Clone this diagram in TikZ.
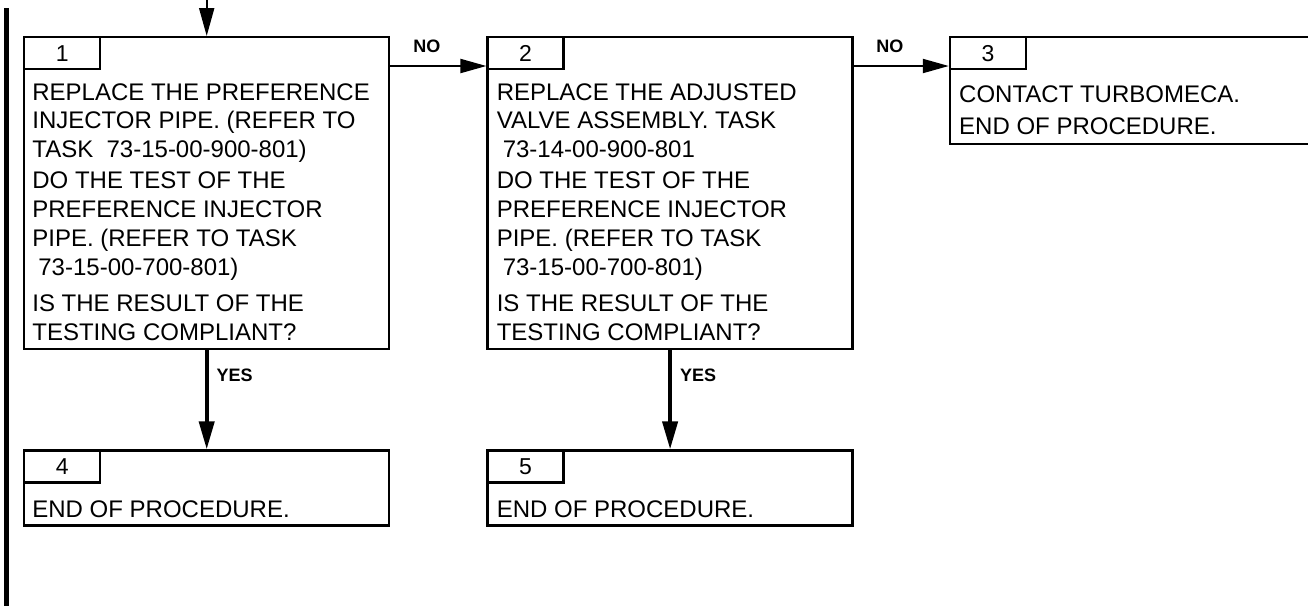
\documentclass[tikz,border=0pt]{standalone}
\usepackage{fontspec}
\setmainfont{Liberation Sans}
\usepackage{tikz}
\usetikzlibrary{arrows.meta, positioning, calc}

\begin{document}
\begin{tikzpicture}[
  font=\fontsize{12}{14.4}\selectfont,
  stepbox/.style={rectangle, draw=black, line width=1.2pt, inner sep=0pt,
                  minimum width=182.5pt},
  numtab/.style={rectangle, draw=black, line width=1.2pt, inner sep=0pt,
                 minimum width=38pt, minimum height=16pt, anchor=north west,
                 font=\fontsize{11.5}{12}\selectfont},
  steptext/.style={inner sep=0pt, align=left},
  arr/.style={-{Triangle[length=13pt, width=7pt]}, line width=1pt},
  downarr/.style={-{Triangle[length=14pt, width=7.5pt]}, line width=2pt},
  lbl/.style={font=\bfseries\fontsize{9}{10}\selectfont, inner sep=0pt},
  node distance=48pt and 48pt
]
  \useasboundingbox (0,0) rectangle (654pt,-303pt);
  \clip (0,0) rectangle (654pt,-303pt);

  \node[stepbox, minimum height=156pt, anchor=north west] (box1) at (11.5pt,-18pt) {};
  \node[stepbox, minimum height=156pt, right=48pt of box1] (box2) {};
  \node[stepbox, minimum width=190pt, minimum height=53.5pt,
        right=47.5pt of box2.north east, anchor=north west] (box3) {};
  \node[stepbox, minimum height=37.5pt, below=49.5pt of box1] (box4) {};
  \node[stepbox, minimum height=37.5pt, below=49.5pt of box2] (box5) {};

  \foreach \n in {1,...,5}
    \node[numtab] (tab\n) at (box\n.north west) {\n};

  \node[steptext, below right=23.5pt and 4.5pt of box1.north west] (txt1)
    {REPLACE THE PREFERENCE\\ INJECTOR PIPE. (REFER TO\\ TASK\ \ 73-15-00-900-801)\\[1.2pt]
     DO THE TEST OF THE\\ PREFERENCE INJECTOR\\ PIPE. (REFER TO TASK\\ \hspace*{3pt}73-15-00-700-801)\\[3.6pt]
     IS THE RESULT OF THE\\ TESTING COMPLIANT?};
  \node[steptext, below right=23.5pt and 5pt of box2.north west] (txt2)
    {REPLACE THE ADJUSTED\\ VALVE ASSEMBLY. TASK\\ \hspace*{3pt}73-14-00-900-801\\[1.2pt]
     DO THE TEST OF THE\\ PREFERENCE INJECTOR\\ PIPE. (REFER TO TASK\\ \hspace*{3pt}73-15-00-700-801)\\[3.6pt]
     IS THE RESULT OF THE\\ TESTING COMPLIANT?};
  \node[steptext, below right=24.5pt and 5pt of box3.north west] (txt3)
    {CONTACT TURBOMECA.\\[2pt] END OF PROCEDURE.};
  \node[steptext, below right=25.5pt and 4.5pt of box4.north west] (txt4) {END OF PROCEDURE.};
  \node[steptext, below right=25.5pt and 5pt of box5.north west] (txt5) {END OF PROCEDURE.};

  \coordinate (entry) at (box1.north |- 0,0);
  \draw[downarr, line width=1pt] (entry) -- (box1.north);

  \draw[arr] ([yshift=-15pt]box1.north east) -- ([yshift=-15pt]box2.north west)
    node[lbl, pos=0.38, above=6pt] {NO};
  \draw[arr] ([yshift=-15pt]box2.north east) -- ([yshift=-15pt]box3.north west)
    node[lbl, pos=0.38, above=6pt] {NO};

  \draw[downarr] (box1) -- (box4) node[lbl, pos=0.25, right=4pt] {YES};
  \draw[downarr] (box2) -- (box5) node[lbl, pos=0.25, right=4pt] {YES};

  \draw[line width=2.5pt] (3.25pt,-4pt) -- (3.25pt,-303pt);
\end{tikzpicture}
\end{document}
